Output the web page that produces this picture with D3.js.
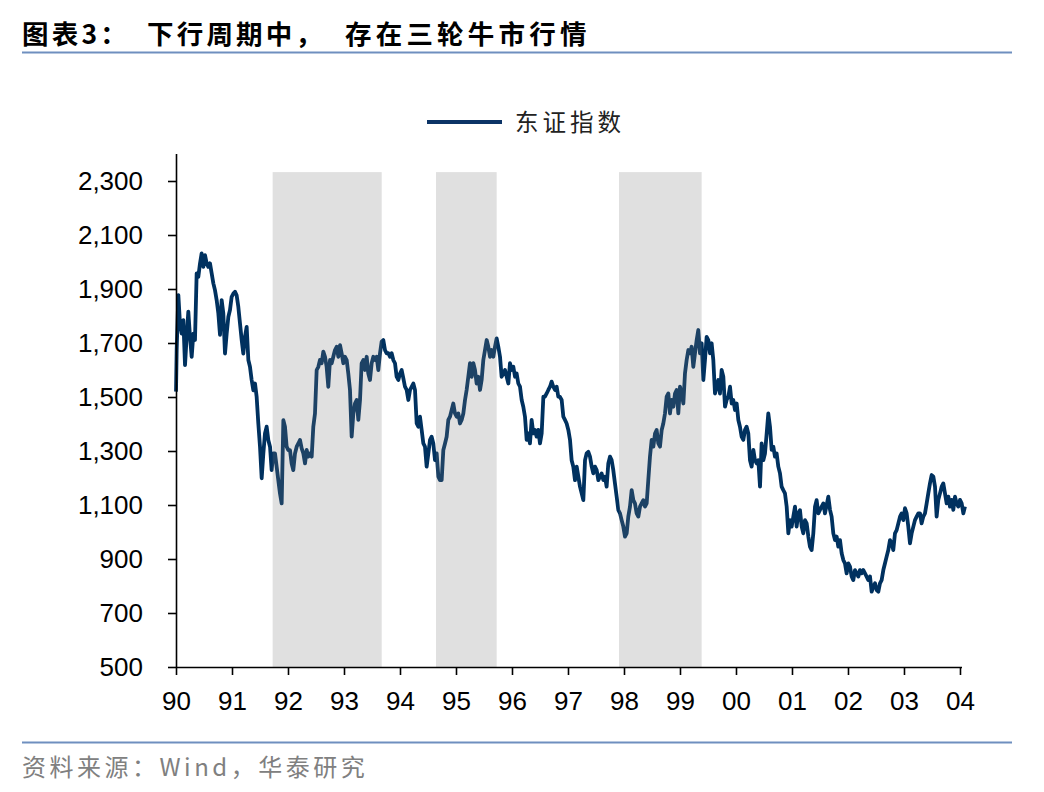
<!DOCTYPE html>
<html><head><meta charset="utf-8">
<script src="https://cdn.jsdelivr.net/npm/d3@7"></script>
<style>
html,body{margin:0;padding:0;background:#fff;}
svg{display:block;}
</style></head>
<body>
<script>
const titleLabel = "图表3：";
const titlePart1 = "下行周期中，";
const titlePart2 = "存在三轮牛市行情";
const legendLabel = "东证指数";
const sourceText = "资料来源：Wind，华泰研究";
const yTicks = [500, 700, 900, 1100, 1300, 1500, 1700, 1900, 2100, 2300];
const xTicks = [90, 91, 92, 93, 94, 95, 96, 97, 98, 99, 100, 101, 102, 103, 104];
const xTickLabels = ["90","91","92","93","94","95","96","97","98","99","00","01","02","03","04"];
const shadeStart = [91.726, 94.643, 97.911];
const shadeEnd = [93.673, 95.726, 99.387];
const shadeTop = 2333;

const dates = [
90.000,90.012,90.042,90.071,90.101,90.131,90.161,90.190,90.220,90.250,90.280,90.310,90.339,90.369,90.399,90.429,90.458,90.488,90.518,90.548,
90.577,90.607,90.637,90.667,90.696,90.726,90.756,90.786,90.815,90.845,90.875,90.905,90.935,90.964,90.994,91.024,91.054,91.083,91.113,91.143,
91.173,91.202,91.232,91.262,91.292,91.321,91.351,91.381,91.411,91.440,91.470,91.500,91.530,91.560,91.589,91.619,91.649,91.679,91.708,91.738,
91.768,91.798,91.827,91.857,91.887,91.917,91.946,91.976,92.006,92.036,92.065,92.095,92.125,92.155,92.185,
92.214,92.244,92.274,92.304,92.333,92.363,92.393,92.423,92.452,92.482,92.512,92.542,92.571,92.601,92.631,92.661,92.690,92.720,92.750,92.780,
92.809,92.839,92.869,92.899,92.929,92.958,92.988,93.018,93.048,93.077,93.107,93.137,93.167,93.196,93.226,93.256,93.286,93.315,93.345,93.375,
93.405,93.434,93.464,93.494,93.524,93.553,93.583,93.613,93.643,93.672,93.702,93.732,93.762,93.792,93.821,93.851,93.881,93.911,93.940,93.970,
94.000,94.030,94.060,94.089,94.119,94.149,94.179,94.208,94.238,94.268,94.298,94.327,94.357,94.387,94.417,94.446,94.476,94.506,
94.536,94.565,94.595,94.625,94.655,94.685,94.714,94.744,94.774,94.804,94.833,94.863,94.893,94.923,94.952,94.982,95.012,95.042,95.071,95.101,
95.131,95.161,95.190,95.220,95.250,95.280,95.310,95.339,95.369,95.399,95.429,95.458,95.488,95.518,95.548,95.577,95.607,95.637,95.667,95.696,
95.726,95.756,95.786,95.815,95.845,95.875,95.905,95.935,95.964,95.994,96.024,96.054,96.083,96.113,96.143,96.173,96.202,96.232,96.262,96.292,
96.321,96.351,96.381,96.411,96.440,96.470,96.500,96.530,96.560,96.589,96.619,96.649,96.679,96.708,96.738,96.768,96.798,96.827,
96.857,96.887,96.917,96.946,96.976,97.006,97.036,97.065,97.095,97.125,97.155,97.185,97.214,97.244,97.274,97.304,97.333,97.363,97.393,97.423,
97.452,97.482,97.512,97.542,97.571,97.601,97.631,97.661,97.690,97.720,97.750,97.780,97.809,97.839,97.869,97.899,97.929,97.958,97.988,98.018,
98.048,98.077,98.107,98.137,98.167,98.196,98.226,98.256,98.286,98.315,98.345,98.375,98.405,98.434,98.464,98.494,98.524,98.554,98.583,98.613,
98.643,98.673,98.702,98.732,98.762,98.792,98.821,98.851,98.881,98.911,98.940,98.970,99.000,99.030,99.060,99.089,99.119,99.149,
99.179,99.208,99.238,99.268,99.298,99.327,99.357,99.387,99.417,99.446,99.476,99.506,99.536,99.565,99.595,99.625,99.655,99.685,99.714,99.744,
99.774,99.804,99.833,99.863,99.893,99.923,99.952,99.982,100.012,100.042,100.071,100.101,100.131,100.161,100.190,100.220,100.250,100.280,100.310,100.339,
100.369,100.399,100.429,100.458,100.488,100.518,100.548,100.577,100.607,100.637,100.667,100.696,100.726,100.756,100.786,100.815,100.845,100.875,100.905,100.935,
100.964,100.994,101.024,101.054,101.083,101.113,101.143,101.173,101.202,101.232,101.262,101.292,101.321,101.351,101.381,101.411,101.440,101.470,
101.500,101.530,101.560,101.589,101.619,101.649,101.679,101.708,101.738,101.768,101.798,101.827,101.857,101.887,101.917,101.946,101.976,102.006,102.036,102.065,
102.095,102.125,102.155,102.185,102.214,102.244,102.274,102.304,102.333,102.363,102.393,102.423,102.452,102.482,102.512,102.542,102.571,102.601,102.631,102.661,
102.690,102.720,102.750,102.780,102.809,102.839,102.869,102.899,102.929,102.958,102.988,103.018,103.048,103.077,103.107,103.137,103.167,103.196,103.226,103.256,
103.286,103.315,103.345,103.375,103.405,103.434,103.464,103.494,103.524,103.554,103.583,103.613,103.643,103.673,103.702,103.732,103.762,103.792,103.821,103.851,
103.881,103.911,103.940,103.970,104.000,104.030,104.060,104.089
];
const values = [
1520,1674,1877,1772,1735,1785,1618,1723,1816,1723,1649,1735,1711,1958,1945,1995,2032,1982,2025,1995,
1982,1995,1958,1921,1896,1859,1810,1730,1859,1810,1661,1735,1797,1822,1871,1883,1890,1877,1834,1772,
1711,1661,1723,1760,1637,1612,1563,1525,1550,1501,1402,1316,1199,1291,1365,1390,1340,1316,1229,1291,
1291,1241,1192,1143,1106,1414,1390,1316,1303,1303,1254,1229,1291,1316,1328,
1341,1310,1291,1254,1304,1279,1291,1279,1390,1439,1600,1612,1637,1625,1668,1649,1612,1538,1637,1625,
1649,1674,1686,1649,1692,1662,1625,1649,1637,1587,1526,1353,1439,1476,1489,1415,1489,1625,1637,1600,
1649,1587,1563,1625,1649,1637,1649,1600,1662,1705,1711,1674,1662,1662,1649,1662,1637,1625,1575,1563,
1587,1600,1569,1538,1526,1489,1526,1538,1550,1526,1402,1390,1427,1378,1328,1316,1242,1291,
1341,1353,1328,1266,1291,1205,1192,1192,1304,1328,1353,1415,1427,1452,1476,1439,1427,1439,1402,1415,
1439,1489,1526,1575,1625,1575,1625,1600,1550,1575,1526,1563,1637,1674,1711,1686,1649,1674,1649,1686,
1717,1686,1649,1575,1587,1600,1575,1550,1625,1600,1612,1575,1587,1550,1538,1489,1464,1427,1341,1365,
1328,1415,1365,1378,1353,1378,1328,1365,1501,1501,1513,1526,1538,1557,1538,1526,1538,1501,
1500,1489,1427,1415,1402,1378,1341,1266,1242,1192,1242,1205,1168,1143,1118,1266,1291,1297,1279,1242,
1217,1242,1229,1192,1205,1217,1192,1205,1168,1254,1279,1266,1229,1180,1131,1081,1069,1044,1020,983,
995,1057,1094,1155,1118,1106,1069,1057,1094,1106,1118,1094,1106,1192,1279,1341,1316,1365,1378,1328,
1316,1378,1402,1439,1501,1513,1439,1489,1464,1513,1526,1439,1538,1513,1476,1587,1637,1674,
1662,1686,1612,1662,1711,1748,1662,1699,1563,1637,1723,1711,1662,1699,1637,1513,1538,1563,1513,1600,
1575,1464,1489,1501,1538,1476,1489,1452,1476,1415,1390,1353,1341,1378,1390,1365,1266,1242,1304,1266,
1254,1266,1168,1328,1266,1291,1365,1439,1390,1304,1316,1279,1291,1242,1217,1168,1155,1143,1094,995,
1044,1020,1057,1094,1020,1069,1081,1020,995,1044,1032,983,946,933,995,1094,1118,1069,
1082,1094,1106,1069,1100,1131,1082,1057,995,970,983,946,970,921,896,884,847,884,872,835,
822,859,847,835,859,847,859,847,835,822,835,779,798,810,785,779,810,822,859,884,
909,933,970,958,933,995,1007,1032,1057,1069,1044,1088,1069,1020,958,995,1020,1044,1057,1069,
1069,1032,1057,1069,1106,1143,1180,1211,1205,1168,1057,1119,1143,1168,1180,1143,1106,1131,1094,1119,
1082,1131,1106,1094,1119,1106,1069,1094
];

const W = 1044, H = 792;
const svg = d3.select("body").append("svg").attr("width", W).attr("height", H);

const x = d3.scaleLinear().domain([90, 104.036]).range([176, 962]);
const y = d3.scaleLinear().domain([500, 2400]).range([667, 154]);

// title
const tFont = "'Noto Sans CJK SC', sans-serif";
[[titleLabel, 22, 3.2], [titlePart1, 147, 3.2], [titlePart2, 345, 4.2]].forEach(([t, tx, ls]) => {
  svg.append("text").attr("x", tx).attr("y", 44)
    .attr("font-family", tFont).attr("font-weight", 700)
    .attr("font-size", 26.5).attr("fill", "#000").attr("letter-spacing", ls)
    .text(t);
});
svg.append("line").attr("x1", 22).attr("x2", 1012).attr("y1", 52.5).attr("y2", 52.5)
  .attr("stroke", "#6f8fbf").attr("stroke-width", 2);

// legend
svg.append("line").attr("x1", 427).attr("x2", 502).attr("y1", 122).attr("y2", 122)
  .attr("stroke", "#0c3466").attr("stroke-width", 4);
svg.append("text").attr("x", 515).attr("y", 131)
  .attr("font-family", tFont).attr("font-size", 23.5)
  .attr("fill", "#222").attr("letter-spacing", 4).text(legendLabel);

// line
const data = dates.map((d, i) => ({t: d, v: values[i]}));
svg.append("path").datum(data)
  .attr("fill", "none").attr("stroke", "#00315f").attr("stroke-width", 3.8)
  .attr("stroke-linejoin", "round")
  .attr("d", d3.line().x(d => x(d.t)).y(d => y(d.v)));

// shaded periods (drawn on top, translucent)
svg.append("g").selectAll("rect").data(shadeStart.map((s, i) => ({s, e: shadeEnd[i]})))
  .join("rect")
  .attr("x", d => x(d.s)).attr("width", d => x(d.e) - x(d.s))
  .attr("y", y(shadeTop)).attr("height", y(500) - y(shadeTop))
  .attr("fill", "#7a7a7a").attr("fill-opacity", 0.235);

// axes
const yAxis = d3.axisLeft(y).tickValues(yTicks).tickFormat(d3.format(",")).tickSize(8).tickPadding(25);
const gy = svg.append("g").attr("transform", "translate(176,0)").call(yAxis);
const xAxis = d3.axisBottom(x).tickValues(xTicks).tickFormat((d, i) => xTickLabels[i]).tickSize(8).tickPadding(17);
const gx = svg.append("g").attr("transform", "translate(0,667)").call(xAxis);
[gx, gy].forEach(g => {
  g.select(".domain").attr("stroke", "#000").attr("stroke-width", 1.6);
  g.selectAll(".tick line").attr("stroke", "#000").attr("stroke-width", 1.6);
  g.selectAll("text").attr("font-family", "'Liberation Sans', Arial, sans-serif")
    .attr("font-size", 26).attr("fill", "#000");
});
gx.select(".domain").attr("d", "M176,0.5H962");
gy.select(".domain").attr("d", "M0.5,667V154");

// source
svg.append("line").attr("x1", 22).attr("x2", 1012).attr("y1", 742.5).attr("y2", 742.5)
  .attr("stroke", "#6f8fbf").attr("stroke-width", 2);
svg.append("text").attr("x", 22).attr("y", 776)
  .attr("font-family", tFont).attr("font-size", 24)
  .attr("fill", "#808080").attr("letter-spacing", 3.5).text(sourceText);
</script>
</body></html>
